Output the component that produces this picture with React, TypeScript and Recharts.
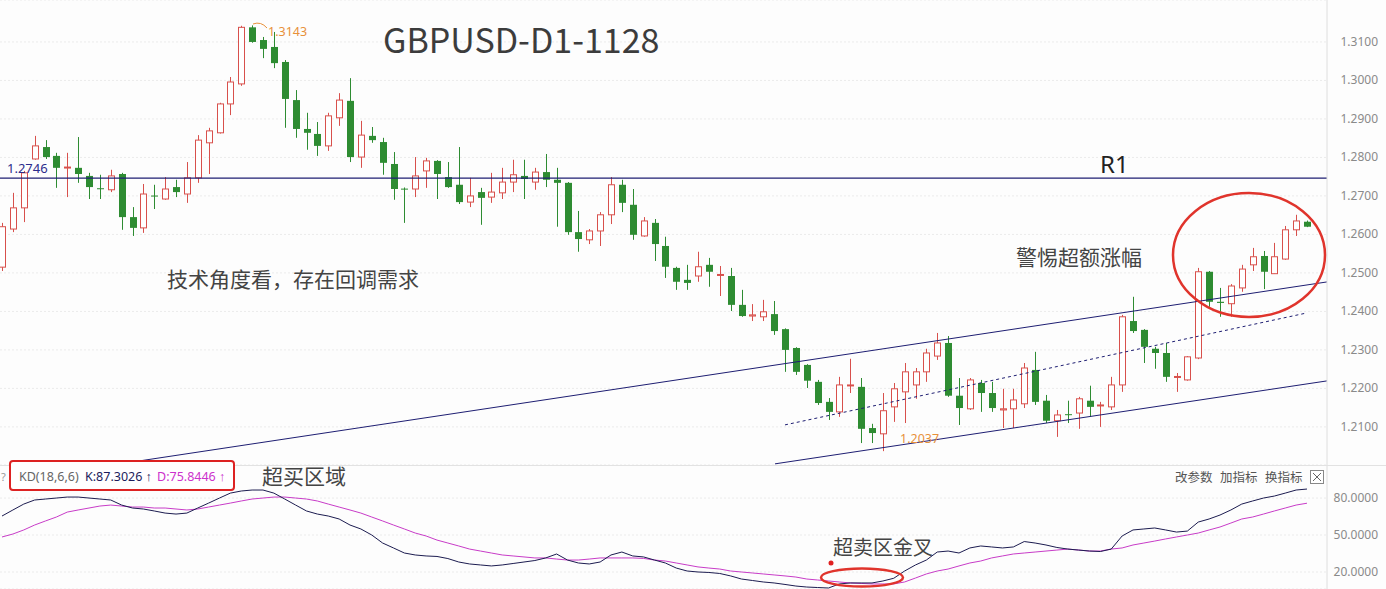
import React from 'react';
import { ComposedChart, Bar, Line, XAxis, YAxis, CartesianGrid, ReferenceLine } from 'recharts';

const opens = [1.2515,1.2614,1.2669,1.2796,1.2827,1.2804,1.2773,1.2773,1.2752,1.2720,1.2716,1.2757,1.2645,1.2617,1.2701,1.2692,1.2723,1.2705,1.2747,1.2838,1.2864,1.2939,1.2991,1.3138,1.3105,1.3087,1.3048,1.2949,1.2874,1.2861,1.2830,1.2903,1.2947,1.2801,1.2856,1.2840,1.2783,1.2719,1.2718,1.2765,1.2791,1.2749,1.2729,1.2684,1.2710,1.2697,1.2708,1.2736,1.2752,1.2736,1.2762,1.2742,1.2734,1.2606,1.2586,1.2609,1.2651,1.2729,1.2677,1.2596,1.2630,1.2570,1.2513,1.2482,1.2492,1.2521,1.2494,1.2492,1.2417,1.2388,1.2386,1.2393,1.2354,1.2305,1.2261,1.2217,1.2165,1.2139,1.2207,1.2204,1.2097,1.2082,1.2152,1.2191,1.2209,1.2243,1.2284,1.2318,1.2181,1.2147,1.2214,1.2188,1.2144,1.2147,1.2160,1.2248,1.2168,1.2116,1.2133,1.2136,1.2168,1.2155,1.2152,1.2209,1.2375,1.2352,1.2303,1.2292,1.2229,1.2222,1.2279,1.2503,1.2425,1.2420,1.2461,1.2521,1.2544,1.2498,1.2536,1.2612,1.2633];
const highs = [1.2630,1.2708,1.2765,1.2856,1.2845,1.2812,1.2812,1.2853,1.2760,1.2755,1.2768,1.2760,1.2671,1.2731,1.2729,1.2749,1.2742,1.2788,1.2858,1.2877,1.2942,1.3009,1.3142,1.3143,1.3113,1.3126,1.3053,1.2975,1.2916,1.2892,1.2916,1.2967,1.3006,1.2895,1.2879,1.2851,1.2814,1.2722,1.2801,1.2799,1.2793,1.2788,1.2827,1.2747,1.2721,1.2760,1.2773,1.2794,1.2794,1.2773,1.2809,1.2773,1.2736,1.2661,1.2614,1.2658,1.2749,1.2742,1.2718,1.2645,1.2640,1.2594,1.2516,1.2521,1.2555,1.2539,1.2518,1.2513,1.2456,1.2419,1.2430,1.2427,1.2356,1.2307,1.2263,1.2222,1.2175,1.2230,1.2277,1.2227,1.2108,1.2188,1.2214,1.2266,1.2253,1.2303,1.2344,1.2336,1.2227,1.2227,1.2222,1.2217,1.2199,1.2199,1.2266,1.2295,1.2183,1.2144,1.2168,1.2178,1.2207,1.2165,1.2230,1.2391,1.2438,1.2354,1.2308,1.2318,1.2240,1.2284,1.2513,1.2505,1.2461,1.2471,1.2521,1.2565,1.2557,1.2578,1.2622,1.2651,1.2636];
const lows = [1.2505,1.2606,1.2632,1.2794,1.2796,1.2721,1.2697,1.2734,1.2692,1.2692,1.2710,1.2612,1.2596,1.2604,1.2666,1.2690,1.2697,1.2682,1.2734,1.2757,1.2862,1.2910,1.2986,1.3098,1.3058,1.3032,1.2877,1.2851,1.2820,1.2804,1.2817,1.2882,1.2788,1.2773,1.2838,1.2755,1.2690,1.2630,1.2697,1.2721,1.2692,1.2721,1.2679,1.2671,1.2625,1.2682,1.2692,1.2710,1.2692,1.2716,1.2723,1.2620,1.2599,1.2555,1.2575,1.2570,1.2627,1.2658,1.2586,1.2594,1.2531,1.2487,1.2456,1.2456,1.2477,1.2464,1.2440,1.2401,1.2386,1.2375,1.2375,1.2339,1.2243,1.2235,1.2201,1.2157,1.2118,1.2126,1.2188,1.2058,1.2058,1.2037,1.2113,1.2110,1.2173,1.2217,1.2274,1.2178,1.2105,1.2144,1.2139,1.2139,1.2097,1.2097,1.2149,1.2157,1.2110,1.2074,1.2110,1.2095,1.2126,1.2100,1.2144,1.2191,1.2344,1.2266,1.2251,1.2217,1.2191,1.2220,1.2276,1.2412,1.2386,1.2386,1.2451,1.2505,1.2458,1.2498,1.2534,1.2596,1.2619];
const closes = [1.2620,1.2669,1.2760,1.2830,1.2801,1.2773,1.2775,1.2757,1.2723,1.2718,1.2752,1.2645,1.2617,1.2705,1.2699,1.2718,1.2710,1.2747,1.2845,1.2869,1.2939,1.2996,1.3138,1.3100,1.3082,1.3045,1.2952,1.2874,1.2864,1.2830,1.2908,1.2949,1.2801,1.2858,1.2845,1.2786,1.2718,1.2717,1.2752,1.2791,1.2757,1.2723,1.2684,1.2700,1.2695,1.2710,1.2736,1.2755,1.2744,1.2762,1.2742,1.2734,1.2606,1.2588,1.2609,1.2651,1.2729,1.2682,1.2599,1.2635,1.2575,1.2516,1.2477,1.2474,1.2516,1.2503,1.2496,1.2417,1.2388,1.2391,1.2399,1.2349,1.2300,1.2243,1.2220,1.2162,1.2139,1.2209,1.2209,1.2095,1.2084,1.2142,1.2199,1.2243,1.2243,1.2292,1.2318,1.2181,1.2149,1.2222,1.2188,1.2149,1.2147,1.2170,1.2253,1.2165,1.2116,1.2131,1.2131,1.2173,1.2152,1.2157,1.2209,1.2386,1.2349,1.2308,1.2292,1.2230,1.2231,1.2282,1.2503,1.2425,1.2422,1.2466,1.2510,1.2542,1.2503,1.2542,1.2612,1.2635,1.2620];

const kValues = [65.4,70.3,75.1,78.4,79.2,80.0,80.8,80.8,80.0,79.2,78.4,74.3,71.9,71.1,69.5,67.8,67.0,67.8,71.9,75.9,80.0,84.0,85.7,86.5,86.5,84.0,79.2,74.3,69.5,67.0,65.4,63.0,58.1,54.9,50.0,43.5,39.5,35.4,33.8,33.0,32.6,30.9,28.1,26.5,25.7,24.9,25.7,26.9,28.1,29.3,31.4,34.6,29.7,27.3,26.5,28.1,33.8,36.2,33.0,32.2,29.7,27.3,23.2,20.8,20.0,19.6,18.8,16.8,14.3,13.1,11.9,11.1,9.9,8.6,7.8,7.4,7.0,10.3,11.1,11.1,11.1,12.7,14.9,20.8,25.7,29.7,36.2,37.0,35.4,39.5,41.1,40.3,39.5,40.3,44.7,43.5,41.9,39.9,38.6,37.8,37.0,36.6,38.6,49.2,54.1,54.9,55.7,54.1,52.4,53.2,60.5,63.0,66.2,70.3,75.1,77.6,80.0,81.6,84.0,86.5,87.3];
const dValues = [48.4,50.8,54.1,58.1,61.4,64.6,68.6,70.3,71.9,73.5,74.3,73.5,72.7,72.7,71.9,71.9,71.1,70.3,71.1,72.7,74.3,75.9,77.6,79.2,80.0,80.8,80.8,80.0,79.2,77.6,75.1,72.7,70.3,67.8,64.6,61.4,58.1,54.9,51.6,49.2,45.9,43.5,41.1,38.6,37.0,35.4,33.8,33.0,32.2,31.4,31.4,30.5,29.7,29.7,30.5,31.4,31.4,31.4,31.4,31.0,29.7,28.9,27.3,25.7,24.1,23.2,22.4,20.8,20.0,19.2,18.4,17.6,16.8,15.9,14.3,13.5,12.7,11.9,11.1,10.7,10.3,10.3,10.3,11.9,15.1,18.4,20.8,22.4,24.9,27.3,28.9,31.4,33.0,34.6,35.4,36.2,37.0,37.8,38.6,37.8,37.0,37.0,38.6,39.5,41.9,43.5,45.1,46.8,48.4,50.0,51.6,54.1,56.5,59.7,63.0,64.6,67.0,69.5,71.9,74.3,75.8];

const priceTicks = [1.21,1.22,1.23,1.24,1.25,1.26,1.27,1.28,1.29,1.30,1.31];
const kdTicks = [20,50,80];
const resistance = 1.2746;
const upperChannel = [{ x: 10.85, y: 1.2004 }, { x: 121.84, y: 1.24766 }];
const lowerChannel = [{ x: 71.08, y: 1.2004 }, { x: 121.84, y: 1.22195 }];
const midChannel = [{ x: 72.0, y: 1.21052 }, { x: 120.0, y: 1.23961 }];

const RED = '#d8504c';
const GREEN = '#2e8c32';
const NAVY = '#1e1e72';
const X_DOMAIN: [number, number] = [-0.184, 121.84];

const candles = opens.map((o, i) => ({ i, o, h: highs[i], l: lows[i], c: closes[i], range: [lows[i], highs[i]] }));
const kd = kValues.map((k, i) => ({ i, k, d: dValues[i] }));

const Candle = (props: any) => {
  const { x, y, width, height, payload } = props;
  if (!payload) return null;
  const { o, c, h, l } = payload;
  const top0 = Math.min(y, y + height);
  const hh = Math.abs(height);
  const ratio = hh / (h - l);
  const yOf = (p: number) => top0 + (h - p) * ratio;
  const up = c >= o;
  const color = up ? RED : GREEN;
  const cx = Math.round(x + width / 2) + 0.5;
  const bt = yOf(Math.max(o, c));
  const bb = yOf(Math.min(o, c));
  const bh = Math.max(bb - bt, 1);
  return (
    <g>
      <line x1={cx} x2={cx} y1={top0} y2={top0 + hh} stroke={color} strokeWidth={1} />
      {up ? (
        <rect x={cx - 3} y={bt} width={6} height={bh} fill="#ffffff" stroke={color} strokeWidth={1} />
      ) : (
        <rect x={cx - 3.5} y={bt} width={7} height={bh} fill={color} stroke="none" />
      )}
    </g>
  );
};

const AxisTick = (props: any) => {
  const { y, payload, digits } = props;
  return (
    <text x={1378} y={y} dy={4} textAnchor="end" fontSize={12} fill="#8a8a8a" fontFamily="Noto Sans, DejaVu Sans, sans-serif">
      {Number(payload.value).toFixed(4)}
    </text>
  );
};

const CJK = '"Noto Sans CJK SC", "Noto Sans", sans-serif';

export default function App() {
  return (
    <div style={{ position: 'absolute', left: 0, top: 0, width: 1386, height: 589, background: '#fdfdfd', overflow: 'hidden' }}>
      <div style={{ position: 'absolute', left: 0, top: 0 }}>
        <ComposedChart width={1386} height={465} data={candles} margin={{ top: 0, right: 0, left: 0, bottom: 0 }}>
          <CartesianGrid vertical={false} stroke="#ebebeb" strokeDasharray="2 2" />
          <XAxis dataKey="i" type="number" domain={X_DOMAIN} hide allowDataOverflow />
          <YAxis
            orientation="right"
            domain={[1.2001, 1.3209]}
            ticks={priceTicks}
            width={59}
            allowDataOverflow
            axisLine={{ stroke: '#dedede' }}
            tickLine={false}
            tick={<AxisTick />}
          />
          <ReferenceLine y={resistance} stroke={NAVY} strokeWidth={1.2} />
          <ReferenceLine segment={upperChannel} stroke={NAVY} strokeWidth={1} ifOverflow="hidden" />
          <ReferenceLine segment={lowerChannel} stroke={NAVY} strokeWidth={1} ifOverflow="hidden" />
          <ReferenceLine segment={midChannel} stroke={NAVY} strokeWidth={1} strokeDasharray="3 3" ifOverflow="hidden" />
          <Bar dataKey="range" barSize={7} isAnimationActive={false} shape={(p: any) => <Candle {...p} />} />
        </ComposedChart>
      </div>
      <div style={{ position: 'absolute', left: 0, top: 465 }}>
        <ComposedChart width={1386} height={124} data={kd} margin={{ top: 0, right: 0, left: 0, bottom: 0 }}>
          <CartesianGrid vertical={false} stroke="#ebebeb" strokeDasharray="2 2" />
          <XAxis dataKey="i" type="number" domain={X_DOMAIN} hide allowDataOverflow />
          <YAxis
            orientation="right"
            domain={[6.2, 106.8]}
            ticks={kdTicks}
            width={59}
            allowDataOverflow
            axisLine={{ stroke: '#dedede' }}
            tickLine={false}
            tick={<AxisTick />}
          />
          <Line dataKey="d" type="linear" stroke="#c83cc8" strokeWidth={1} dot={false} isAnimationActive={false} />
          <Line dataKey="k" type="linear" stroke="#1c1c50" strokeWidth={1} dot={false} isAnimationActive={false} />
        </ComposedChart>
      </div>
      <svg width={1386} height={589} style={{ position: 'absolute', left: 0, top: 0, pointerEvents: 'none' }}>
        <line x1={0} x2={1386} y1={465.5} y2={465.5} stroke="#e2e2e2" />
        <text x={383} y={53} fontSize={34} fill="#3c3c3c" fontFamily={CJK}>GBPUSD-D1-1128</text>
        <path d="M253,24 Q261,21 267,28" stroke="#e8913a" fill="none" strokeWidth={1} />
        <text x={268} y={36} fontSize={12.5} fill="#e8913a" fontFamily="Noto Sans, sans-serif">1.3143</text>
        <text x={7} y={173} fontSize={13} fill="#2c2c8c" fontFamily="Noto Sans, sans-serif">1.2746</text>
        <text x={1100} y={173} fontSize={24} fill="#222" fontFamily="Noto Sans, sans-serif">R1</text>
        <text x={167} y={287} fontSize={21} fill="#444" fontFamily={CJK}>技术角度看，存在回调需求</text>
        <text x={1016} y={265} fontSize={21} fill="#444" fontFamily={CJK}>警惕超额涨幅</text>
        <text x={900} y={443} fontSize={12.5} fill="#e8913a" fontFamily="Noto Sans, sans-serif">1.2037</text>
        <ellipse cx={1249} cy={255} rx={76} ry={62} stroke="#e0342c" strokeWidth={2.5} fill="none" />
        <rect x={10} y={461} width={224} height={29} rx={3} stroke="#dd2222" strokeWidth={2} fill="#ffffff" />
        <text x={1} y={481} fontSize={11} fill="#999" fontFamily="Noto Sans, sans-serif">?</text>
        <text x={19} y={481} fontSize={12.5} fill="#666" fontFamily="Noto Sans, sans-serif">KD(18,6,6)</text>
        <text x={85} y={481} fontSize={12.5} fill="#1c1c5c" fontFamily="Noto Sans, sans-serif">K:87.3026 ↑</text>
        <text x={157} y={481} fontSize={12.5} fill="#cc33cc" fontFamily="Noto Sans, sans-serif">D:75.8446 ↑</text>
        <text x={262} y={484} fontSize={21} fill="#444" fontFamily={CJK}>超买区域</text>
        <text x={1175} y={482} fontSize={12.5} fill="#555" fontFamily={CJK}>改参数</text>
        <text x={1220} y={482} fontSize={12.5} fill="#555" fontFamily={CJK}>加指标</text>
        <text x={1265} y={482} fontSize={12.5} fill="#555" fontFamily={CJK}>换指标</text>
        <rect x={1310.5} y={470.5} width={13} height={13} stroke="#888" fill="#fff" />
        <line x1={1313} y1={473} x2={1321} y2={481} stroke="#666" />
        <line x1={1321} y1={473} x2={1313} y2={481} stroke="#666" />
        <text x={833} y={555} fontSize={20} fill="#444" fontFamily={CJK}>超卖区金叉</text>
        <circle cx={831} cy={563} r={2.5} fill="#e02020" />
        <ellipse cx={862} cy={577.5} rx={41} ry={9} stroke="#e0342c" strokeWidth={2.5} fill="none" />
      </svg>
    </div>
  );
}
